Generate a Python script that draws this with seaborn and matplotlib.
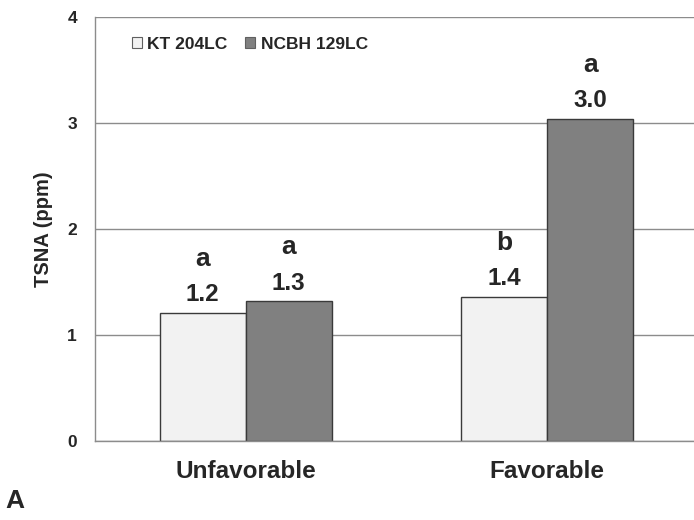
import matplotlib
matplotlib.use("Agg")
import pandas
import matplotlib.pyplot as plt
import seaborn as sns

# Data
conditions = ["Unfavorable", "Favorable"]
varieties = ["KT 204LC", "NCBH 129LC"]
kt_values = [1.21, 1.36]
ncbh_values = [1.32, 3.04]
kt_letters = ["a", "b"]
ncbh_letters = ["a", "a"]
kt_labels = ["1.2", "1.4"]
ncbh_labels = ["1.3", "3.0"]

df = pandas.DataFrame({
    "Condition": conditions * 2,
    "Variety": [varieties[0]] * 2 + [varieties[1]] * 2,
    "TSNA": kt_values + ncbh_values,
})

sns.set_style("white")
plt.rcParams["font.family"] = ["Liberation Sans", "DejaVu Sans"]
plt.rcParams["font.weight"] = "bold"

fig = plt.figure(figsize=(6.94, 5.2), dpi=100)
ax = fig.add_axes([95 / 694, 79 / 520, 603 / 694, 424 / 520])

sns.barplot(
    data=df, x="Condition", y="TSNA", hue="Variety",
    order=conditions, hue_order=varieties,
    palette=["#f2f2f2", "#808080"], width=0.57,
    edgecolor="#3a3a3a", linewidth=1.0, saturation=1, ax=ax,
)

ax.set_xlim(-0.5, 1.5)
ax.set_ylim(0, 4)
ax.set_yticks([0, 1, 2, 3, 4])
ax.yaxis.grid(True, color="#8c8c8c", linewidth=1.0)
ax.set_axisbelow(True)
for s in ["top", "right"]:
    ax.spines[s].set_visible(False)
for s in ["left", "bottom"]:
    ax.spines[s].set_color("#8c8c8c")
    ax.spines[s].set_linewidth(1.0)
ax.tick_params(axis="both", length=0)
ax.tick_params(axis="y", labelsize=12.5, pad=13)
ax.tick_params(axis="x", labelsize=17.5, pad=14)
for t in ax.get_xticklabels() + ax.get_yticklabels():
    t.set_fontweight("bold")
ax.set_xlabel("")
ax.set_ylabel("TSNA (ppm)", fontsize=14.5, fontweight="bold", labelpad=10)

# Value and letter annotations
all_labels = [kt_labels, ncbh_labels]
all_letters = [kt_letters, ncbh_letters]
for i, cont in enumerate(ax.containers):
    for j, bar in enumerate(cont):
        cx = bar.get_x() + bar.get_width() / 2
        top = bar.get_height()
        ax.annotate(all_labels[i][j], (cx, top), xytext=(0, 13),
                    textcoords="offset points", ha="center", va="center",
                    fontsize=17.5, fontweight="bold")
        ax.annotate(all_letters[i][j], (cx, top), xytext=(0, 39),
                    textcoords="offset points", ha="center", va="center",
                    fontsize=19, fontweight="bold")

leg = ax.legend(loc="upper left", bbox_to_anchor=(0.035, 0.99), ncol=2,
                frameon=False, fontsize=12.5, handlelength=0.6,
                handleheight=0.6, handletextpad=0.3, columnspacing=1.0)
for t in leg.get_texts():
    t.set_fontweight("bold")
for h in leg.legend_handles:
    h.set_edgecolor("#606060")
    h.set_linewidth(0.8)

fig.text(5 / 694, 1 - 501 / 520, "A", fontsize=19, fontweight="bold",
         ha="left", va="center")

fig.savefig("out.png", dpi=100)
